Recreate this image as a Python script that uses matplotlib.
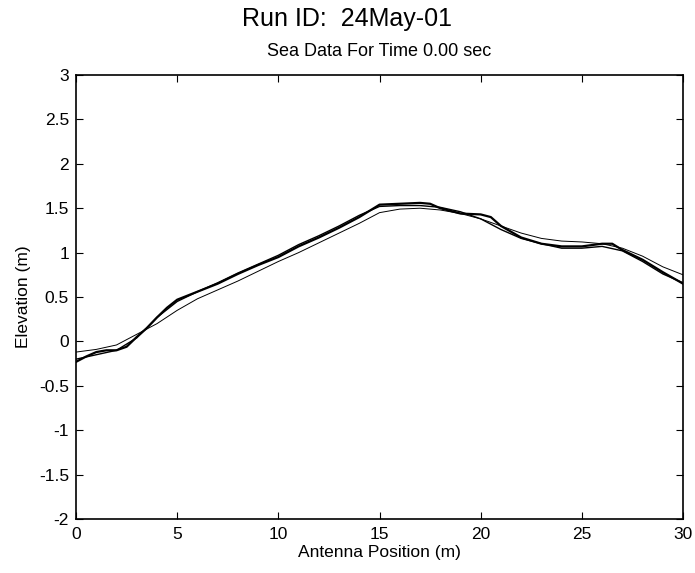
import numpy as np
import matplotlib.pyplot as plt

plt.rcParams['font.family'] = ['Liberation Sans', 'DejaVu Sans']

# measured sea surface (wiggly, heavy)
pos_meas = [0, 0.5, 1, 1.5, 2, 2.5, 3, 3.5, 4, 4.5, 5, 6, 7, 8, 9, 10, 11, 12, 13,
            14, 15, 16, 17, 17.5, 18, 19, 20, 20.5, 21, 22, 23, 24, 25, 26, 26.5,
            27, 28, 29, 30]
elev_meas = [-0.23, -0.17, -0.12, -0.1, -0.1, -0.06, 0.05, 0.15, 0.27, 0.38, 0.47,
             0.56, 0.65, 0.76, 0.86, 0.95, 1.07, 1.17, 1.28, 1.4, 1.54, 1.55, 1.56,
             1.55, 1.5, 1.44, 1.43, 1.4, 1.3, 1.17, 1.1, 1.07, 1.07, 1.1, 1.1, 1.03,
             0.92, 0.78, 0.65]

# reconstructions
pos = [0, 1, 2, 3, 4, 5, 6, 7, 8, 9, 10, 11, 12, 13, 14, 15, 16, 17, 18, 19, 20,
       21, 22, 23, 24, 25, 26, 27, 28, 29, 30]
elev_a = [-0.2, -0.15, -0.1, 0.04, 0.27, 0.45, 0.56, 0.66, 0.77, 0.87, 0.97, 1.09,
          1.19, 1.3, 1.42, 1.52, 1.53, 1.53, 1.51, 1.46, 1.38, 1.26, 1.16, 1.1,
          1.05, 1.05, 1.07, 1.02, 0.9, 0.76, 0.66]
elev_b = [-0.12, -0.09, -0.04, 0.08, 0.2, 0.35, 0.48, 0.58, 0.68, 0.79, 0.9, 1.0,
          1.11, 1.22, 1.33, 1.45, 1.49, 1.5, 1.48, 1.44, 1.38, 1.3, 1.22, 1.16,
          1.13, 1.12, 1.1, 1.05, 0.96, 0.84, 0.75]

fig = plt.figure(figsize=(6.95, 5.73), dpi=100)
ax = fig.add_axes([0.1094, 0.0942, 0.8734, 0.7749])

ax.plot(pos, elev_b, color='black', lw=0.7)
ax.plot(pos, elev_a, color='black', lw=1.0)
ax.plot(pos_meas, elev_meas, color='black', lw=1.6)

ax.set_xlim(0, 30)
ax.set_ylim(-2, 3)
ax.set_xticks(np.arange(0, 31, 5))
ax.set_yticks(np.arange(-2, 3.01, 0.5))
ax.set_yticklabels(['-2', '-1.5', '-1', '-0.5', '0', '0.5', '1', '1.5', '2', '2.5', '3'])
ax.tick_params(direction='in', top=True, right=True, labelsize=12.5, length=5)
ax.tick_params(axis='x', pad=6)
ax.tick_params(axis='y', pad=5)
for s in ax.spines.values():
    s.set_linewidth(1.2)

ax.set_xlabel('Antenna Position (m)', fontsize=12.5, labelpad=2)
ax.set_ylabel('Elevation (m)', fontsize=12.5, labelpad=6)
ax.set_title('Sea Data For Time 0.00 sec', fontsize=13, pad=14)
fig.text(0.5, 0.966, 'Run ID:  24May-01', ha='center', va='center', fontsize=18)

fig.savefig('out.png', dpi=100)
